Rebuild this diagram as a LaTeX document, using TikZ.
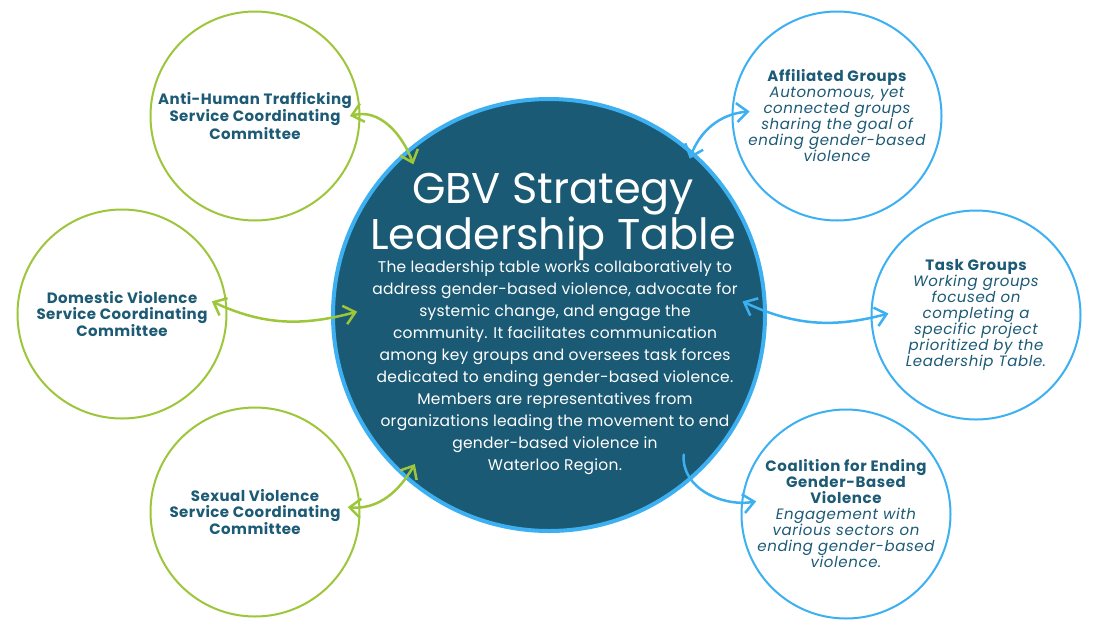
\documentclass[tikz,border=0pt]{standalone}
\usepackage{fontspec}
\setmainfont{Poppins}
\newfontfamily\boldlab[LetterSpace=3]{Poppins}
\newfontfamily\itlab[LetterSpace=4]{Poppins}
\newfontfamily\bodyfont[LetterSpace=1.5]{Poppins}
\usetikzlibrary{arrows.meta,calc}
\definecolor{gbvgreen}{HTML}{9DC63B}
\definecolor{gbvblue}{HTML}{3DB0F2}
\definecolor{gbvdark}{HTML}{1A5A75}
\definecolor{gbvtext}{HTML}{1C5A75}
\begin{document}
\begin{tikzpicture}[x=1pt,y=1pt,
  outer/.style={circle, line width=2pt, minimum size=209pt, inner sep=0pt,
    text=gbvtext, align=center},
  outg/.style={outer, draw=gbvgreen, font=\boldlab\fontsize{15}{16}\selectfont\bfseries},
  outb/.style={outer, draw=gbvblue, font=\itlab\fontsize{15}{16}\selectfont\itshape},
  hub/.style={circle, fill=gbvdark, draw=gbvblue, line width=4pt, minimum size=432pt, inner sep=0pt},
  link/.style={line width=2.5pt, line cap=round},
  glink/.style={link, draw=gbvgreen, {Straight Barb[length=11pt,width=19pt]}-{Straight Barb[length=11pt,width=19pt]}},
  blink/.style={link, draw=gbvblue, {Straight Barb[length=11pt,width=19pt]}-{Straight Barb[length=11pt,width=19pt]}},
  blinkone/.style={link, draw=gbvblue, -{Straight Barb[length=11pt,width=19pt]}},
]
\useasboundingbox (0,0) rectangle (1096,-630);
\fill[white] (0,0) rectangle (1096,-630);

% central circle
\node[hub] (center) at (549,-315) {};
\node[text=white, align=center, font=\fontsize{43}{43}\selectfont] (title) at (553,-217)
  {GBV Strategy\\Leadership Table};
\node[text=white, align=center, font=\bodyfont\fontsize{15.5}{22}\selectfont] (body) at (555,-368)
  {The leadership table works collaboratively to\\
   address gender-based violence, advocate for\\
   systemic change, and engage the\\
   community. It facilitates communication\\
   among key groups and oversees task forces\\
   dedicated to ending gender-based violence.\\
   Members are representatives from\\
   organizations leading the movement to end\\
   gender-based violence in\\
   Waterloo Region.};

% green circles
\node[outg] (anti) at (255,-116) {Anti-Human Trafficking\\Service Coordinating\\Committee};
\node[outg] (dom) at (122,-314) {Domestic Violence\\Service Coordinating\\Committee};
\node[outg] (sex) at (255,-512) {Sexual Violence\\Service Coordinating\\Committee};

% blue circles
\node[outb] (aff) at (837,-116) {{\upshape\bfseries Affiliated Groups}\\Autonomous, yet\\connected groups\\sharing the goal of\\ending gender-based\\violence};
\node[outb] (task) at (976,-315) {{\upshape\bfseries Task Groups}\\Working groups\\focused on\\completing a\\specific project\\prioritized by the\\Leadership Table.};
\node[outb] (coal) at (846,-514) {{\upshape\bfseries Coalition for Ending}\\{\upshape\bfseries Gender-Based}\\{\upshape\bfseries Violence}\\Engagement with\\various sectors on\\ending gender-based\\violence.};

% connectors
\draw[glink] ($(anti.center)!0.9!(anti.0)$) to[out=15,in=110] ($(center.center)!0.93!(center.132)$);
\draw[glink] ($(dom.center)!0.86!(dom.8)$) to[out=-25,in=195] ($(center.center)!0.88!(center.179)$);
\draw[glink] ($(sex.center)!0.88!(sex.3)$) to[out=-5,in=240] ($(center.center)!0.92!(center.228)$);
\draw[blink] ($(center.center)!0.965!(center.48)$) to[out=70,in=185] ($(aff.center)!0.83!(aff.177)$);
\draw[blink] ($(center.center)!0.89!(center.4)$) to[out=-25,in=195] ($(task.center)!0.83!(task.179)$);
\draw[blinkone] ($(center.center)!0.89!(center.-46)$) to[out=-95,in=190] ($(coal.center)!0.86!(coal.172)$);
\end{tikzpicture}
\end{document}
